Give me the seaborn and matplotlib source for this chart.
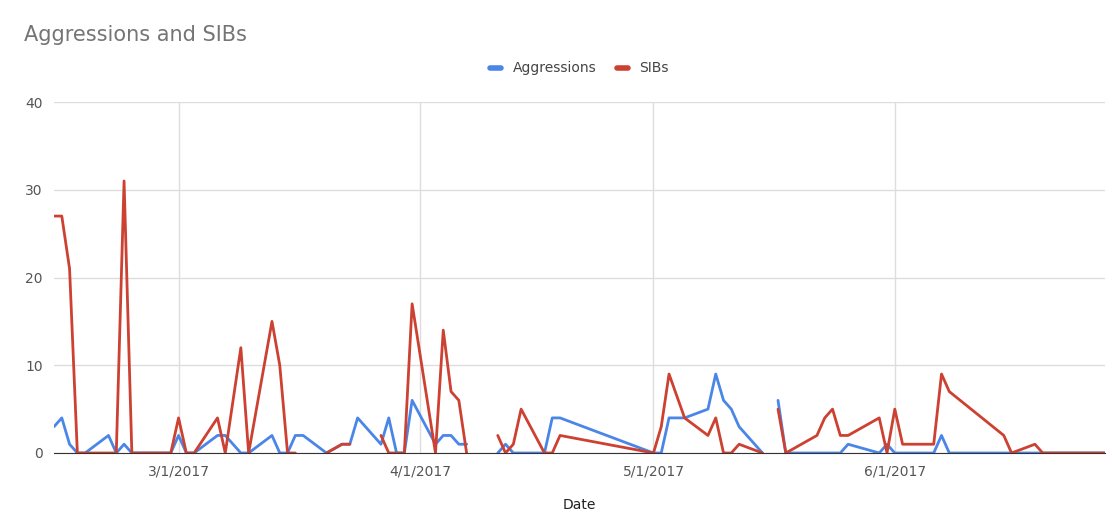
import seaborn as sns
import matplotlib.pyplot as plt
import matplotlib.dates as mdates
import pandas as pd
import numpy as np

nan = np.nan

dates = ["2017-02-13", "2017-02-14", "2017-02-15", "2017-02-16", "2017-02-17", "2017-02-20",
         "2017-02-21", "2017-02-22", "2017-02-23", "2017-02-28", "2017-03-01", "2017-03-02",
         "2017-03-03", "2017-03-06", "2017-03-07", "2017-03-09", "2017-03-10", "2017-03-13",
         "2017-03-14", "2017-03-15", "2017-03-16", "2017-03-17", "2017-03-20", "2017-03-22",
         "2017-03-23", "2017-03-24", "2017-03-27", "2017-03-28", "2017-03-29", "2017-03-30",
         "2017-03-31", "2017-04-03", "2017-04-04", "2017-04-05", "2017-04-06", "2017-04-07",
         "2017-04-10", "2017-04-11", "2017-04-12", "2017-04-13", "2017-04-14", "2017-04-17",
         "2017-04-18", "2017-04-19", "2017-05-01", "2017-05-02", "2017-05-03", "2017-05-05",
         "2017-05-08", "2017-05-09", "2017-05-10", "2017-05-11", "2017-05-12", "2017-05-15",
         "2017-05-16", "2017-05-17", "2017-05-18", "2017-05-22", "2017-05-23", "2017-05-24",
         "2017-05-25", "2017-05-26", "2017-05-30", "2017-05-31", "2017-06-01", "2017-06-02",
         "2017-06-06", "2017-06-07", "2017-06-08", "2017-06-15", "2017-06-16", "2017-06-19",
         "2017-06-20", "2017-06-28"]

sibs = [27, 27, 21, 0, 0, 0,
        0, 31, 0, 0, 4, 0,
        0, 4, 0, 12, 0, 15,
        10, 0, 0, nan, 0, 1,
        1, nan, 2, 0, 0, 0,
        17, 0, 14, 7, 6, 0,
        nan, 2, 0, 1, 5, 0,
        0, 2, 0, 3, 9, 4,
        2, 4, 0, 0, 1, 0,
        nan, 5, 0, 2, 4, 5,
        2, 2, 4, 0, 5, 1,
        1, 9, 7, 2, 0, 1,
        0, 0]

aggressions = [3, 4, 1, 0, 0, 2,
               0, 1, 0, 0, 2, 0,
               0, 2, 2, 0, 0, 2,
               0, 0, 2, 2, 0, 1,
               1, 4, 1, 4, 0, 0,
               6, 1, 2, 2, 1, 1,
               nan, 0, 1, 0, 0, 0,
               4, 4, 0, 0, 4, 4,
               5, 9, 6, 5, 3, 0,
               nan, 6, 0, 0, 0, 0,
               0, 1, 0, 1, 0, 0,
               0, 2, 0, 0, 0, 0,
               0, 0]

df = pd.DataFrame({"Date": pd.to_datetime(dates), "Aggressions": aggressions, "SIBs": sibs})

sns.set_style("white")
fig = plt.figure(figsize=(11.19, 5.2), dpi=100)
ax = fig.add_axes([54 / 1119, 1 - 453 / 520, (1105 - 54) / 1119, (453 - 102) / 520])

# plain ax.plot keeps the NaN gaps (seaborn lineplot would bridge them)
colors = {"Aggressions": "#4a86e8", "SIBs": "#cc4131"}
for name in ["Aggressions", "SIBs"]:
    ax.plot(df["Date"], df[name], color=colors[name], linewidth=2, label=name)

ax.set_xlim(pd.Timestamp("2017-02-13"), pd.Timestamp("2017-06-28"))
ax.set_ylim(0, 40)
ax.set_yticks([0, 10, 20, 30, 40])
ax.xaxis.set_major_locator(mdates.MonthLocator(bymonth=[3, 4, 5, 6]))
ax.xaxis.set_major_formatter(mdates.DateFormatter("%-m/%-d/%Y"))
ax.grid(True, color="#dddddd", linewidth=1)
ax.set_axisbelow(True)
for s in ["top", "right", "left"]:
    ax.spines[s].set_visible(False)
ax.spines["bottom"].set_color("#333333")
ax.tick_params(axis="both", length=0, labelsize=10, colors="#555555", pad=8)
ax.set_ylabel("")
ax.set_xlabel("Date", fontsize=10, color="#222222", labelpad=14)

leg = ax.legend(loc="lower center", bbox_to_anchor=(0.5, 1.04), ncol=2, frameon=False,
                fontsize=10, handlelength=0.8, labelcolor="#444444", columnspacing=1.5)
for h in leg.get_lines():
    h.set_linewidth(4)
fig.text(24 / 1119, 1 - 35 / 520, "Aggressions and SIBs", fontsize=15, color="#757575", va="center")

fig.savefig("out.png", dpi=100)
